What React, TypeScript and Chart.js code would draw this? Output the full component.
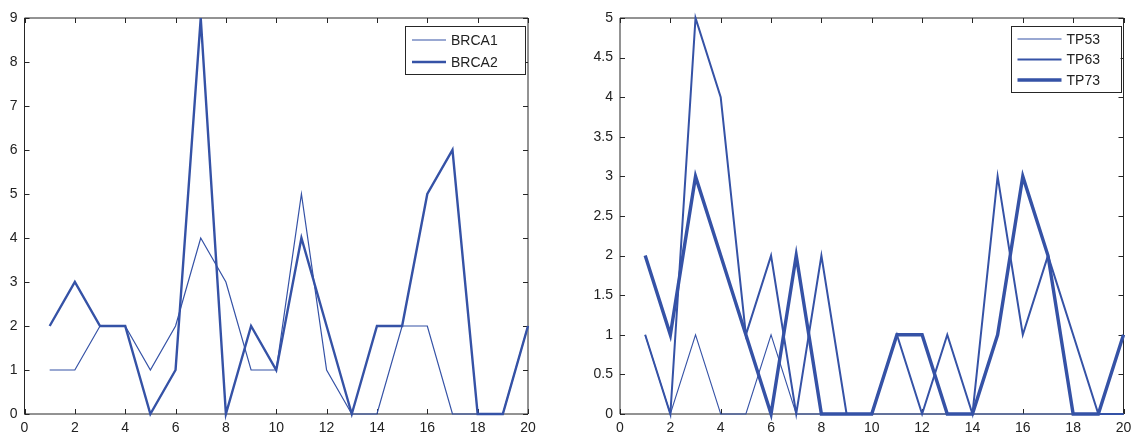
import React, { useEffect, useRef } from "react";
import { Chart, registerables } from "chart.js";

Chart.register(...registerables);

const xValues = [1, 2, 3, 4, 5, 6, 7, 8, 9, 10, 11, 12, 13, 14, 15, 16, 17, 18, 19, 20];
const brca1 = [1, 1, 2, 2, 1, 2, 4, 3, 1, 1, 5, 1, 0, 0, 2, 2, 0, 0, 0, 2];
const brca2 = [2, 3, 2, 2, 0, 1, 9, 0, 2, 1, 4, 2, 0, 2, 2, 5, 6, 0, 0, 2];
const tp53 = [1, 0, 1, 0, 0, 1, 0, 0, 0, 0, 0, 0, 0, 0, 0, 0, 0, 0, 0, 0];
const tp63 = [1, 0, 5, 4, 1, 2, 0, 2, 0, 0, 1, 0, 1, 0, 3, 1, 2, 1, 0, 0];
const tp73 = [2, 1, 3, 2, 1, 0, 2, 0, 0, 0, 1, 1, 0, 0, 1, 3, 2, 0, 0, 1];

const BLUE = "#3552a6";
const FONT = "'Liberation Sans', Arial, Helvetica, sans-serif";
const FRAME = "#262626";

type Series = { label: string; values: number[]; width: number };

const framePlugin = {
  id: "matlabFrame",
  beforeDatasetsDraw(chart: any) {
    const { ctx, chartArea, scales } = chart;
    const { left, right, top, bottom } = chartArea;
    ctx.save();
    ctx.strokeStyle = FRAME;
    ctx.lineWidth = 1;
    ctx.beginPath();
    ctx.rect(left, top, right - left, bottom - top);
    ctx.stroke();
    const tl = 5;
    ctx.beginPath();
    scales.x.ticks.forEach((t: any) => {
      const px = Math.round(scales.x.getPixelForValue(t.value)) + 0.5;
      ctx.moveTo(px, bottom);
      ctx.lineTo(px, bottom - tl);
      ctx.moveTo(px, top);
      ctx.lineTo(px, top + tl);
    });
    scales.y.ticks.forEach((t: any) => {
      const py = Math.round(scales.y.getPixelForValue(t.value)) + 0.5;
      ctx.moveTo(left, py);
      ctx.lineTo(left + tl, py);
      ctx.moveTo(right, py);
      ctx.lineTo(right - tl, py);
    });
    ctx.stroke();
    ctx.restore();
  },
  afterDatasetsDraw(chart: any, _args: any, opts: any) {
    const { ctx, chartArea } = chart;
    const box = opts.box;
    if (!box) return;
    const x0 = chartArea.right - box.offsetRight - box.width;
    const y0 = chartArea.top + box.offsetTop;
    ctx.save();
    ctx.fillStyle = "#ffffff";
    ctx.fillRect(x0, y0, box.width, box.height);
    ctx.strokeStyle = FRAME;
    ctx.lineWidth = 1;
    ctx.strokeRect(Math.round(x0) + 0.5, Math.round(y0) + 0.5, box.width, box.height);
    ctx.font = `14px ${FONT}`;
    ctx.textBaseline = "middle";
    chart.data.datasets.forEach((ds: any, i: number) => {
      const cy = y0 + box.firstRow + i * box.rowGap;
      ctx.strokeStyle = BLUE;
      ctx.lineWidth = ds.borderWidth;
      ctx.beginPath();
      ctx.moveTo(x0 + 7, cy);
      ctx.lineTo(x0 + 7 + box.sample, cy);
      ctx.stroke();
      ctx.fillStyle = "#222";
      ctx.fillText(ds.label, x0 + box.sample + 12, cy + 1);
    });
    ctx.restore();
  },
};

const fmt = (v: any) => String(Math.round(Number(v) * 10) / 10);

function Panel(props: {
  series: Series[];
  yMax: number;
  yStep: number;
  left: number;
  width: number;
  yAxisWidth: number;
  rightPad: number;
  box: any;
}) {
  const ref = useRef<HTMLCanvasElement>(null);
  useEffect(() => {
    if (!ref.current) return;
    const chart = new Chart(ref.current, {
      type: "line",
      data: {
        datasets: props.series.map((s) => ({
          label: s.label,
          data: xValues.map((x, i) => ({ x, y: s.values[i] })),
          borderColor: BLUE,
          backgroundColor: BLUE,
          borderWidth: s.width,
          pointRadius: 0,
          tension: 0,
          fill: false,
          clip: false as any,
          borderJoinStyle: "miter",
        })),
      },
      options: {
        animation: false,
        responsive: false,
        maintainAspectRatio: false,
        layout: { padding: { top: 18, right: props.rightPad, left: 0, bottom: 0 } },
        plugins: {
          legend: { display: false },
          tooltip: { enabled: false },
          matlabFrame: { box: props.box },
        } as any,
        scales: {
          x: {
            type: "linear",
            min: 0,
            max: 20,
            grid: { display: false, drawTicks: false },
            border: { display: false },
            ticks: {
              stepSize: 2,
              padding: 6,
              color: "#222",
              font: { family: FONT, size: 14 },
              maxRotation: 0,
              callback: fmt,
            },
            afterFit: (scale: any) => {
              scale.height = 22;
              scale.paddingLeft = 0;
              scale.paddingRight = 0;
            },
          },
          y: {
            type: "linear",
            min: 0,
            max: props.yMax,
            grid: { display: false, drawTicks: false },
            border: { display: false },
            ticks: {
              stepSize: props.yStep,
              padding: 7,
              color: "#222",
              font: { family: FONT, size: 14 },
              callback: fmt,
            },
            afterFit: (scale: any) => {
              scale.width = props.yAxisWidth;
              scale.paddingTop = 0;
              scale.paddingBottom = 0;
            },
          },
        },
      },
      plugins: [framePlugin],
    });
    return () => chart.destroy();
  }, []);
  return (
    <canvas
      ref={ref}
      width={props.width}
      height={436}
      style={{ position: "absolute", left: props.left, top: 0, width: props.width, height: 436 }}
    />
  );
}

export default function App() {
  return (
    <div style={{ position: "fixed", left: 0, top: 0, width: 1133, height: 436, background: "#fff" }}>
      <Panel
        series={[
          { label: "BRCA1", values: brca1, width: 1.2 },
          { label: "BRCA2", values: brca2, width: 2.4 },
        ]}
        yMax={9}
        yStep={1}
        left={0}
        width={560}
        yAxisWidth={24.5}
        rightPad={32}
        box={{ width: 120, height: 48, offsetRight: 3, offsetTop: 8, firstRow: 14, rowGap: 22, sample: 34 }}
      />
      <Panel
        series={[
          { label: "TP53", values: tp53, width: 1.1 },
          { label: "TP63", values: tp63, width: 2.0 },
          { label: "TP73", values: tp73, width: 3.4 },
        ]}
        yMax={5}
        yStep={0.5}
        left={560}
        width={573}
        yAxisWidth={60}
        rightPad={9.5}
        box={{ width: 110, height: 66, offsetRight: 3, offsetTop: 8, firstRow: 13, rowGap: 20.5, sample: 44 }}
      />
    </div>
  );
}
